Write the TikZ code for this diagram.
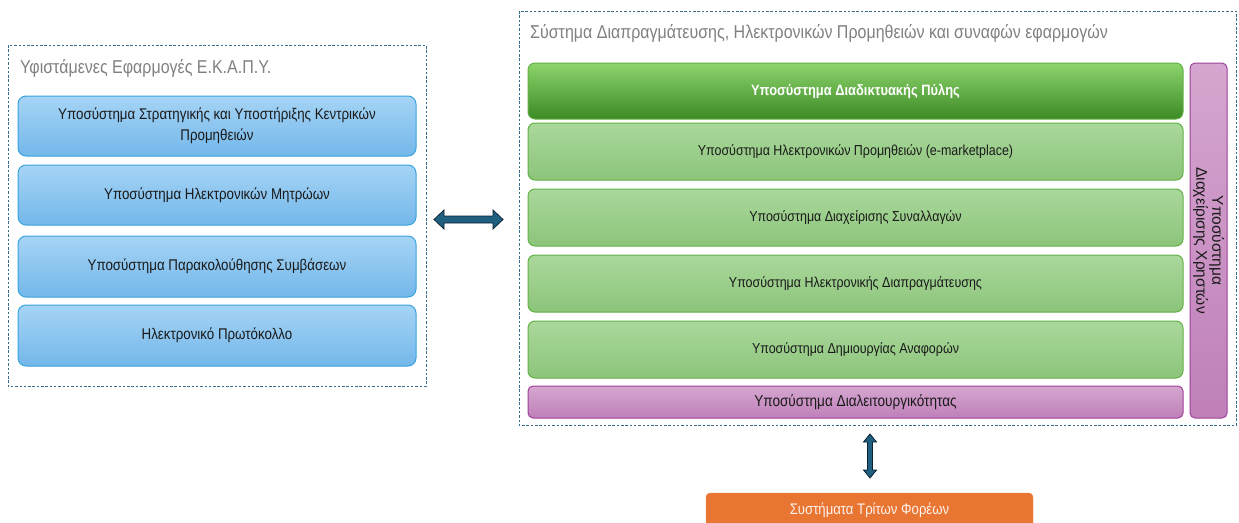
\documentclass[tikz,border=0pt]{standalone}
\usepackage{fontspec}
\setmainfont{Liberation Sans}[FakeStretch=0.86]
\newfontfamily\widefont{Liberation Sans}
\usetikzlibrary{calc}
\definecolor{dashc}{HTML}{3A6A8C}
\definecolor{titlec}{HTML}{808080}
\definecolor{blueT}{HTML}{A6D4F5}
\definecolor{blueB}{HTML}{73B7EA}
\definecolor{blueD}{HTML}{3AA3DE}
\definecolor{dgT}{HTML}{8DD46C}
\definecolor{dgB}{HTML}{3C8A25}
\definecolor{lgT}{HTML}{AAD89C}
\definecolor{lgB}{HTML}{8CC47A}
\definecolor{gD}{HTML}{62B246}
\definecolor{puT}{HTML}{D5A6D0}
\definecolor{puB}{HTML}{BF80B8}
\definecolor{puD}{HTML}{A0409A}
\definecolor{arrF}{HTML}{1F5F80}
\definecolor{arrD}{HTML}{0B2233}
\definecolor{orF}{HTML}{E97532}
\definecolor{txt}{HTML}{1A1A1A}
\tikzset{
  groupbox/.style={draw=dashc, dash pattern=on 2.5pt off 1.8pt, line width=0.8pt},
  grouptitle/.style={anchor=west, text=titlec, font=\fontsize{18.6}{20}\selectfont, inner sep=0pt},
  bluebox/.style={draw=blueD, line width=1pt, rounded corners=8pt, top color=blueT, bottom color=blueB,
    minimum width=398pt, text=txt, font=\fontsize{15.5}{21}\selectfont, align=center, inner sep=0pt},
  greenbox/.style={draw=gD, line width=1pt, rounded corners=7pt, top color=lgT, bottom color=lgB,
    minimum width=655pt, minimum height=57pt, text=txt, font=\fontsize{14.5}{16}\selectfont, inner sep=0pt},
  darkgreen/.style={greenbox, top color=dgT, bottom color=dgB, text=white, font=\fontsize{15}{16}\selectfont\bfseries},
  purplebox/.style={draw=puD, line width=1pt, rounded corners=5pt, top color=puT, bottom color=puB,
    text=txt, font=\fontsize{15.8}{16}\selectfont, inner sep=0pt},
  fatarrow/.style={draw=arrD, fill=arrF, line width=0.8pt, line join=miter},
}
\begin{document}
\begin{tikzpicture}[x=1pt,y=-1pt]
\clip (0,0) rectangle (1239,522);
\fill[white] (0,0) rectangle (1239,522);
% left group
\draw[groupbox] (8,45) rectangle (426,386);
\coordinate (LG) at (426,219.5);
\node[grouptitle] (lt) at (20,68) {Υφιστάμενες Εφαρμογές Ε.Κ.Α.Π.Υ.};
\node[bluebox, minimum height=60pt] (b1) at (217,126) {Υποσύστημα Στρατηγικής και Υποστήριξης Κεντρικών\\Προμηθειών};
\node[bluebox, minimum height=60pt] (b2) at (217,195) {Υποσύστημα Ηλεκτρονικών Μητρώων};
\node[bluebox, minimum height=61pt] (b3) at (217,266.5) {Υποσύστημα Παρακολούθησης Συμβάσεων};
\node[bluebox, minimum height=61pt] (b4) at (217,335.5) {Ηλεκτρονικό Πρωτόκολλο};
% right group
\draw[groupbox] (519,11) rectangle (1236,425);
\coordinate (RG) at (519,219.5);
\coordinate (RGb) at (870,425);
\node[grouptitle] (rt) at (530,33) {Σύστημα Διαπραγμάτευσης, Ηλεκτρονικών Προμηθειών και συναφών εφαρμογών};
\node[darkgreen, minimum height=56pt] (g0) at (855.5,91) {Υποσύστημα Διαδικτυακής Πύλης};
\node[greenbox] (g1) at (855.5,151.5) {Υποσύστημα Ηλεκτρονικών Προμηθειών (e-marketplace)};
\node[greenbox] (g2) at (855.5,217.5) {Υποσύστημα Διαχείρισης Συναλλαγών};
\node[greenbox] (g3) at (855.5,283.5) {Υποσύστημα Ηλεκτρονικής Διαπραγμάτευσης};
\node[greenbox] (g4) at (855.5,349.5) {Υποσύστημα Δημιουργίας Αναφορών};
\node[purplebox, minimum width=655pt, minimum height=32pt] (p1) at (855.5,402) {Υποσύστημα Διαλειτουργικότητας};
\node[purplebox, minimum width=37pt, minimum height=355pt] (pv) at (1208.5,240.5) {};
\node[rotate=-90, align=center, text=txt, font=\widefont\fontsize{15.5}{16}\selectfont, inner sep=0pt] (pvt) at (pv.center) {Υποσύστημα\\Διαχείρισης Χρηστών};
% third parties
\draw[fill=orF, draw=orF!80!white, rounded corners=4pt] (706,493) rectangle (1033,540);
\coordinate (OT) at (870,493);
\node[text=white!92!orF, font=\fontsize{15.3}{16}\selectfont, inner sep=0pt] (ot) at (869.5,510) {Συστήματα Τρίτων Φορέων};
% connectors (block double arrows)
\coordinate (ha) at ($(LG)!0.457!(RG)$);
\draw[fatarrow] (ha) ++(-34.5,0) -- ++(10,-9.5) -- ++(0,6) -- ++(49,0) -- ++(0,-6) -- ++(10,9.5)
  -- ++(-10,9.5) -- ++(0,-6) -- ++(-49,0) -- ++(0,6) -- cycle;
\coordinate (va) at ($(RGb)!0.456!(OT)$);
\draw[fatarrow] (va) ++(0,-22) -- ++(6.5,8) -- ++(-4,0) -- ++(0,28) -- ++(4,0) -- ++(-6.5,8)
  -- ++(-6.5,-8) -- ++(4,0) -- ++(0,-28) -- ++(-4,0) -- cycle;
\end{tikzpicture}
\end{document}
